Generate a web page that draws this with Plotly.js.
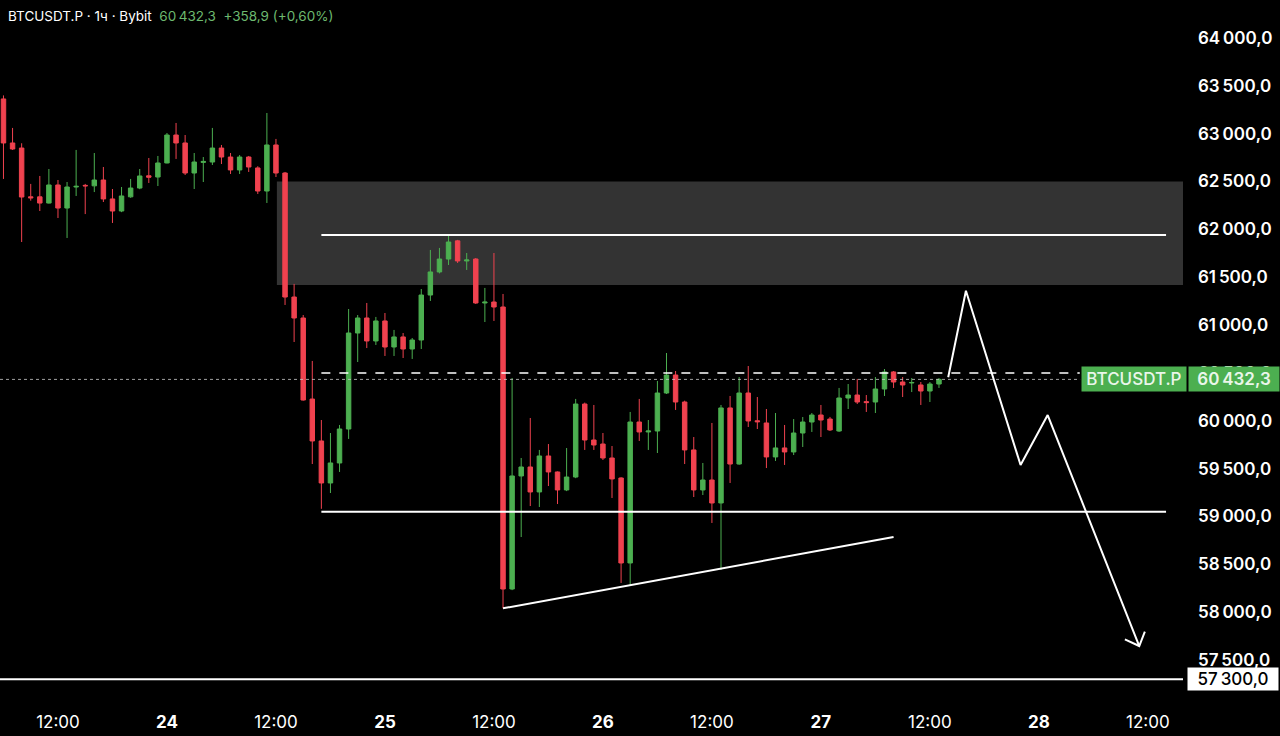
<!DOCTYPE html>
<html>
<head>
<meta charset="utf-8">
<script src="https://cdn.plot.ly/plotly-3.0.1.min.js"></script>
<style>
html,body{margin:0;padding:0;background:#000;}
#chart{width:1280px;height:736px;}
</style>
</head>
<body>
<div id="chart"></div>
<script>
// ---- Data (hourly candles, BTCUSDT.P, Bybit) ----
const startTime = "2024-06-23T06:00:00";
const openVals = [63363,62903,62850,62340,62340,62275,62464,62223,62443,62460,62455,62516,62318,62192,62340,62432,62560,62547,
  62694,62986,62903,62589,62700,62704,62850,62756,62621,62756,62642,62401,62882,62589,61293,61074,60227,59789,59350,59559,59914,60917,61074,60834,61043,60771,60876,60750,
  60844,61314,61555,61690,61880,61670,61690,61231,61241,61189,58242,59423,59517,59256,59632,59465,59277,59412,60175,59799,59757,59611,59402,58514,59987,59883,59893,60290,
  60478,60196,59695,59277,59381,59141,60134,59548,60290,60000,59977,59622,59716,59674,59872,59987,60060,60018,59893,60238,60269,60200,60196,60332,60510,60405,60395,60374,60311,60384];
const highVals = [63400,63060,62900,62475,62558,62631,62516,62495,62830,62475,62798,62652,62422,62443,62527,62631,62746,62767,
  63007,63112,62986,62798,62756,63060,62882,62798,62777,62767,62660,63216,62945,62600,61430,61105,60625,60008,59872,59956,61168,61105,61231,61085,61126,60949,60917,60865,
  61377,61785,61806,61931,61890,61753,61701,61388,61753,61325,60447,59611,60029,59695,59757,59470,59715,60228,60190,60165,59872,59736,59410,60092,60228,60008,60416,60708,
  60520,60210,59830,59559,59977,60165,60259,60457,60572,60248,60123,60081,59956,60018,60039,60081,60165,60040,60343,60384,60437,60269,60457,60541,60520,60457,60447,60405,60405,60447];
const lowVals = [62527,62830,61868,62300,62192,62270,62119,61910,62349,62160,62390,62286,62067,62180,62330,62420,62485,62453,
  62690,62736,62568,62422,62495,62673,62683,62579,62579,62600,62370,62276,62547,61210,60823,60210,59548,59080,59245,59465,59810,60614,60760,60792,60677,60677,60656,60646,
  60750,61252,61540,61628,61649,61576,61220,61032,61043,58040,58230,58785,59109,59099,59318,59130,59265,59400,59695,59695,59590,59193,58305,58284,59789,59695,59663,60280,
  60113,59548,59203,59224,58932,58441,59350,59540,59935,59914,59506,59580,59538,59642,59726,59883,59830,59893,59883,60123,60175,60092,60081,60259,60343,60248,60300,60165,60196,60343];
const closeVals = [62903,62840,62338,62330,62275,62464,62223,62443,62450,62455,62516,62318,62192,62349,62432,62558,62545,62694,
  62986,62903,62589,62704,62710,62850,62756,62621,62756,62652,62401,62882,62589,61293,61074,60217,59789,59350,59559,59914,60917,61074,60834,61043,60771,60876,60750,60844,
  61314,61555,61690,61868,61670,61680,61231,61240,61189,58242,59423,59517,59256,59632,59465,59277,59412,60175,59799,59747,59611,59392,58514,59987,59883,59893,60290,60478,
  60196,59695,59277,59381,59141,60134,59548,60290,59998,59990,59622,59716,59674,59872,59987,60060,60008,59904,60238,60269,60196,60190,60332,60510,60405,60374,60400,60311,60384,60432.3];

// axis ticks
const xTickVals = ["2024-06-23 12:00","2024-06-24 00:00","2024-06-24 12:00","2024-06-25 00:00","2024-06-25 12:00","2024-06-26 00:00","2024-06-26 12:00","2024-06-27 00:00","2024-06-27 12:00","2024-06-28 00:00","2024-06-28 12:00"];
const xTickText = ["12:00","<b>24</b>","12:00","<b>25</b>","12:00","<b>26</b>","12:00","<b>27</b>","12:00","<b>28</b>","12:00"];
const yTickVals = [57500,58000,58500,59000,59500,60000,60500,61000,61500,62000,62500,63000,63500,64000];
const yTickText = ["57\u2009500,0","58\u2009000,0","58\u2009500,0","59\u2009000,0","59\u2009500,0","60\u2009000,0","60\u2009500,0","61\u2009000,0","61\u2009500,0","62\u2009000,0","62\u2009500,0","63\u2009000,0","63\u2009500,0","64\u2009000,0"];

// drawings
const zoneTimes = ["2024-06-24 12:06"];
const zonePrices = [61420, 62500];
const topLineTimes = ["2024-06-24 17:00","2024-06-28 14:00"];
const topLinePrice = 61940;
const supportTimes = ["2024-06-24 17:00","2024-06-28 14:00"];
const supportPrice = 59050;
const dashedTimes = ["2024-06-24 17:00","2024-06-28 04:30"];
const dashedPrice = 60500;
const lastPrice = 60432.3;
const trendTimes = ["2024-06-25 13:00","2024-06-27 08:00"];
const trendPrices = [58040, 58785];
const bottomPrice = 57300;
const pathTimes = ["2024-06-27 14:01","2024-06-27 15:58","2024-06-27 21:59","2024-06-28 00:58","2024-06-28 11:03"];
const pathPrices = [60454, 61359, 59538, 60060, 57646];
const headTimes = ["2024-06-28 09:28","2024-06-28 11:03","2024-06-28 11:40"];
const headPrices = [57716, 57646, 57796];

const xRange = ["2024-06-23 05:37","2024-06-28 15:52"];
const yRange = [57082, 64397];

// build times
const times = [];
{
  const t0 = new Date(startTime + "Z").getTime();
  for (let i = 0; i < openVals.length; i++) {
    const d = new Date(t0 + i * 3600000);
    times.push(d.toISOString().slice(0,16).replace("T"," "));
  }
}

const GREEN = "#4caf50";
const RED = "#f0424f";
const FONT = "Inter, Roboto, sans-serif";

const candle = {
  type: "candlestick",
  x: times, open: openVals, high: highVals, low: lowVals, close: closeVals,
  increasing: {line: {color: GREEN, width: 1}, fillcolor: GREEN},
  decreasing: {line: {color: RED, width: 1}, fillcolor: RED},
  whiskerwidth: 0,
  hoverinfo: "skip",
  showlegend: false
};

const zig = {
  type: "scatter", mode: "lines", x: pathTimes, y: pathPrices,
  line: {color: "#ffffff", width: 2}, hoverinfo: "skip", showlegend: false
};
const head = {
  type: "scatter", mode: "lines", x: headTimes, y: headPrices,
  line: {color: "#ffffff", width: 2}, hoverinfo: "skip", showlegend: false
};

const shapes = [
  {type: "rect", xref: "x", yref: "y", x0: zoneTimes[0], x1: xRange[1], y0: zonePrices[0], y1: zonePrices[1],
   fillcolor: "#333333", line: {width: 0}, layer: "below"},
  {type: "line", xref: "x", yref: "y", x0: topLineTimes[0], x1: topLineTimes[1], y0: topLinePrice, y1: topLinePrice,
   line: {color: "#ffffff", width: 2}},
  {type: "line", xref: "x", yref: "y", x0: supportTimes[0], x1: supportTimes[1], y0: supportPrice, y1: supportPrice,
   line: {color: "#ffffff", width: 2}},
  {type: "line", xref: "x", yref: "y", x0: dashedTimes[0], x1: dashedTimes[1], y0: dashedPrice, y1: dashedPrice,
   line: {color: "#ffffff", width: 1.5, dash: "dash"}},
  {type: "line", xref: "paper", yref: "y", x0: 0, x1: 0.913, y0: lastPrice, y1: lastPrice,
   line: {color: "rgba(200,200,200,0.8)", width: 1, dash: "dot"}},
  {type: "line", xref: "x", yref: "y", x0: trendTimes[0], x1: trendTimes[1], y0: trendPrices[0], y1: trendPrices[1],
   line: {color: "#ffffff", width: 2}},
  {type: "line", xref: "paper", yref: "y", x0: 0, x1: 1, y0: bottomPrice, y1: bottomPrice,
   line: {color: "#ffffff", width: 2}}
];

const annotations = [
  {xref: "paper", yref: "paper", x: 0, y: 1, xanchor: "left", yanchor: "top", xshift: 6, yshift: -6, showarrow: false,
   align: "left",
   text: "BTCUSDT.P · 1ч · Bybit  <span style='color:#6db96f'>60\u2009432,3  +358,9 (+0,60%)</span>",
   font: {family: FONT, size: 13.5, color: "#ffffff"}},
  {xref: "paper", yref: "y", x: 0.9586, y: lastPrice, xanchor: "center", yanchor: "middle", showarrow: false,
   text: "BTCUSDT.P", bgcolor: GREEN, width: 104, height: 24, borderpad: 0,
   font: {family: FONT, size: 17, color: "#eaf6ea", weight: 500}},
  {xref: "paper", yref: "y", x: 1.0430, y: lastPrice, xanchor: "center", yanchor: "middle", showarrow: false,
   text: "60\u2009432,3", bgcolor: GREEN, width: 90, height: 24, borderpad: 0,
   font: {family: FONT, size: 17, color: "#eaf6ea", weight: 600}},
  {xref: "paper", yref: "y", x: 1.0422, y: bottomPrice, xanchor: "center", yanchor: "middle", showarrow: false,
   text: "57\u2009300,0", bgcolor: "#ffffff", width: 90, height: 22, borderpad: 0,
   font: {family: FONT, size: 17, color: "#000000", weight: 500}}
];

const layout = {
  width: 1280, height: 736,
  paper_bgcolor: "#000000", plot_bgcolor: "#000000",
  margin: {l: 0, r: 97, t: 0, b: 36},
  showlegend: false,
  xaxis: {
    type: "date", range: xRange, rangeslider: {visible: false},
    tickmode: "array", tickvals: xTickVals, ticktext: xTickText,
    showgrid: false, zeroline: false, showline: false, ticks: "",
    tickfont: {family: FONT, size: 17, color: "#ffffff"},
    ticklabelstandoff: 10, fixedrange: true
  },
  yaxis: {
    side: "right", range: yRange,
    tickmode: "array", tickvals: yTickVals, ticktext: yTickText,
    showgrid: false, zeroline: false, showline: false, ticks: "",
    tickfont: {family: FONT, size: 17, color: "#ffffff", weight: 600},
    ticklabelstandoff: 14, fixedrange: true
  },
  shapes: shapes,
  annotations: annotations
};

Plotly.newPlot("chart", [candle, zig, head], layout, {displayModeBar: false, staticPlot: true});
</script>
</body>
</html>
